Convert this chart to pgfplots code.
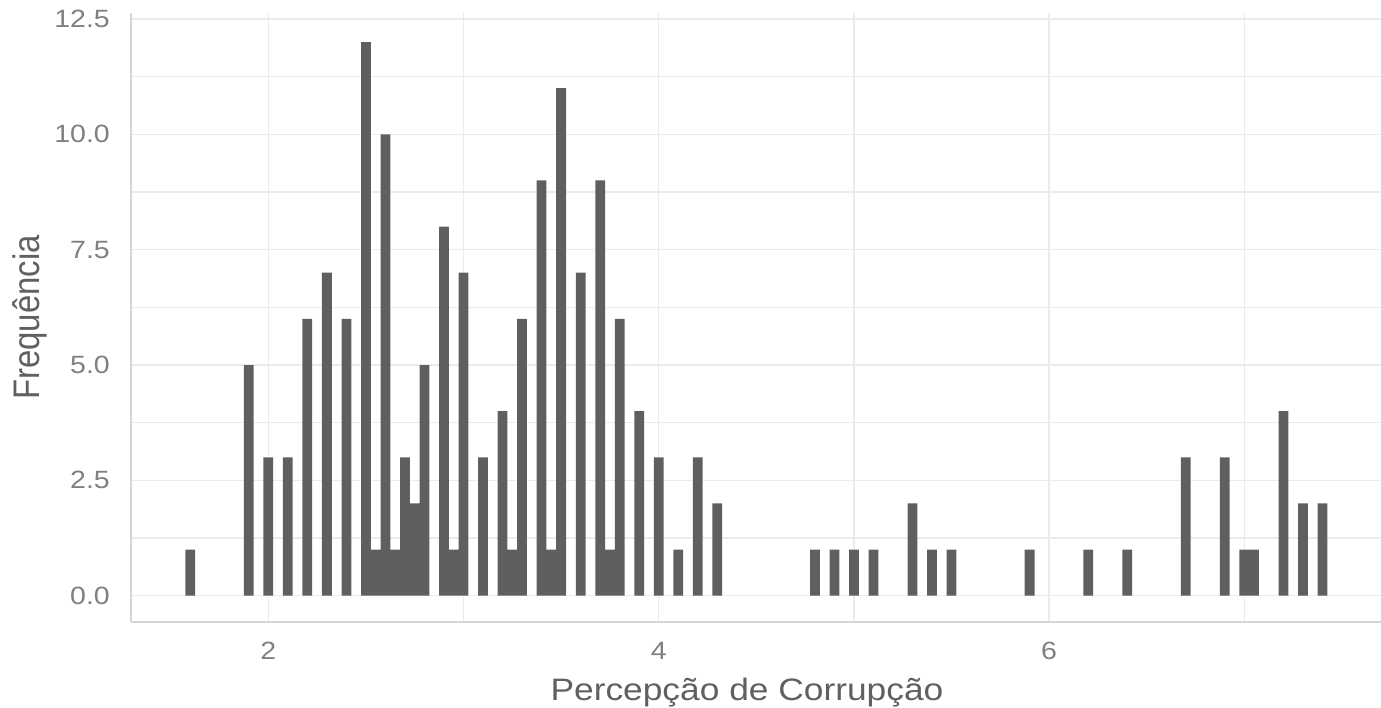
\documentclass[border=0pt]{standalone}
\usepackage{pgfplots}
\pgfplotsset{compat=1.18}
\usepackage{fontspec}
\setmainfont{Liberation Sans}
\newfontfamily\widefont[FakeStretch=1.14]{Liberation Sans}
\newfontfamily\narrowfont[FakeStretch=0.89]{Liberation Sans}

\definecolor{barfill}{HTML}{5F5F5F}
\definecolor{gridcol}{HTML}{EBEBEB}
\definecolor{axiscol}{HTML}{D6D6D6}
\definecolor{tickcol}{HTML}{808080}
\definecolor{titlecol}{HTML}{606060}

\begin{document}
\begin{tikzpicture}[x=1pt,y=1pt]
% page frame: plot panel is 1250 x 609, with room for labels around it
\useasboundingbox (-131,-85) rectangle (1250,622);
\begin{axis}[
  at={(0,0)}, anchor=south west,
  scale only axis, width=1250pt, height=609pt,
  xmin=1.2966, xmax=7.700,
  ymin=-0.570, ymax=12.629,
  axis x line*=bottom, axis y line*=left,
  axis line style={draw=axiscol, line width=1.6pt, -},
  xtick={2,4,6}, minor xtick={3,5,7},
  ytick={0,2.5,5,7.5,10,12.5}, minor ytick={1.25,3.75,6.25,8.75,11.25},
  grid=both,
  major grid style={draw=gridcol, line width=1.4pt},
  minor grid style={draw=gridcol, line width=1.4pt},
  major tick length=0pt, minor tick length=0pt,
  tick style={draw=none},
  /pgf/number format/assume math mode=true,
  yticklabel style={/pgf/number format/fixed, /pgf/number format/fixed zerofill,
    /pgf/number format/precision=1},
  scaled y ticks=false,
  xticklabel style={font=\widefont\fontsize{25}{25}\selectfont, text=tickcol,
    inner sep=0pt, anchor=north, yshift=-20pt},
  yticklabel style={font=\widefont\fontsize{25}{25}\selectfont, text=tickcol,
    inner sep=0pt, anchor=east, xshift=-21pt},
  xlabel={Percepção de Corrupção},
  ylabel={Frequência},
  xlabel style={font=\widefont\fontsize{31}{31}\selectfont, text=titlecol,
    at={(axis description cs:0.4928,-0.1281)}, anchor=base, inner sep=0pt},
  ylabel style={font=\narrowfont\fontsize{37}{37}\selectfont, text=titlecol,
    at={(axis description cs:-0.0728,0.5)}, anchor=base, rotate=0, inner sep=0pt},
  ybar, bar width=0.05, bar shift=0pt,
]
\addplot[fill=barfill, draw=none] coordinates {
  (1.60,1) (1.90,5) (2.00,3) (2.10,3) (2.20,6) (2.30,7) (2.40,6)
  (2.50,12) (2.55,1) (2.60,10) (2.65,1) (2.70,3) (2.75,2) (2.80,5)
  (2.90,8) (2.95,1) (3.00,7) (3.10,3) (3.20,4) (3.25,1) (3.30,6)
  (3.40,9) (3.45,1) (3.50,11) (3.60,7) (3.70,9) (3.75,1) (3.80,6)
  (3.90,4) (4.00,3) (4.10,1) (4.20,3) (4.30,2)
  (4.80,1) (4.90,1) (5.00,1) (5.10,1) (5.30,2) (5.40,1) (5.50,1)
  (5.90,1) (6.20,1) (6.40,1) (6.70,3) (6.90,3) (7.00,1) (7.05,1)
  (7.20,4) (7.30,2) (7.40,2)
};
\end{axis}
\end{tikzpicture}
\end{document}
